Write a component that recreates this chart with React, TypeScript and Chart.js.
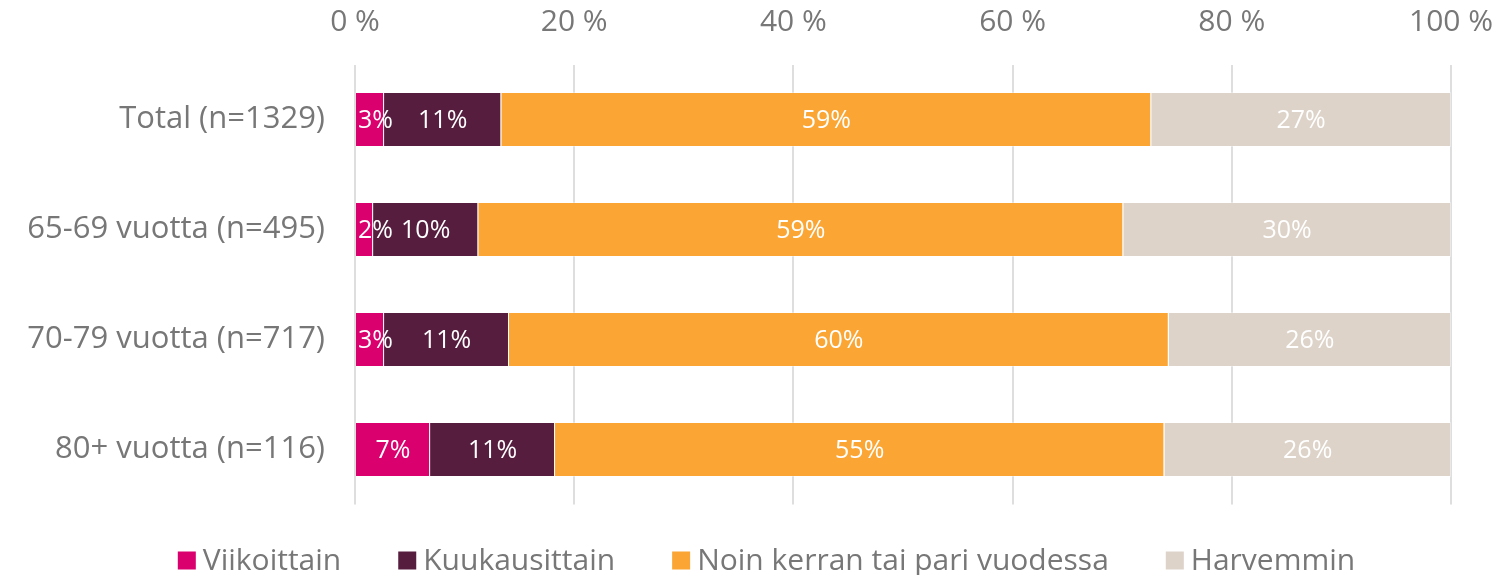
import React, { useEffect, useRef } from "react";
import { Chart, registerables } from "chart.js";

Chart.register(...registerables);

const categories = ["Total (n=1329)", "65-69 vuotta (n=495)", "70-79 vuotta (n=717)", "80+ vuotta (n=116)"];
const seriesNames = ["Viikoittain", "Kuukausittain", "Noin kerran tai pari vuodessa", "Harvemmin"];
const viikoittain = [2.65, 1.65, 2.65, 6.85];
const kuukausittain = [10.7, 9.6, 11.4, 11.4];
const noinKerran = [59.3, 58.85, 60.2, 55.6];
const harvemmin = [27.35, 29.9, 25.75, 26.15];
const labelsViikoittain = ["3%", "2%", "3%", "7%"];
const labelsKuukausittain = ["11%", "10%", "11%", "11%"];
const labelsNoin = ["59%", "59%", "60%", "55%"];
const labelsHarvemmin = ["27%", "30%", "26%", "26%"];
const tickValues = [0, 20, 40, 60, 80, 100];
const colors = ["#DA006D", "#561D3F", "#FBA634", "#DDD3C9"];

const FONT = "'Open Sans'";
const GRAY = "#777777";

export default function App() {
  const ref = useRef<HTMLCanvasElement | null>(null);
  useEffect(() => {
    if (!ref.current) return;
    const valueLabels = [labelsViikoittain, labelsKuukausittain, labelsNoin, labelsHarvemmin];
    const dataLabelPlugin = {
      id: "dataLabels",
      afterDatasetsDraw(chart: any) {
        const ctx = chart.ctx;
        ctx.save();
        ctx.font = `25px ${FONT}`;
        ctx.fillStyle = "#ffffff";
        ctx.textAlign = "center";
        ctx.textBaseline = "middle";
        chart.data.datasets.forEach((ds: any, di: number) => {
          const meta = chart.getDatasetMeta(di);
          meta.data.forEach((bar: any, i: number) => {
            const left = Math.min(bar.x, bar.base);
            const w = Math.abs(bar.x - bar.base);
            const tw = ctx.measureText(valueLabels[di][i]).width;
            // small segments: keep the label from running off the left edge
            let cx = left + w / 2;
            if (tw + 4 > w) cx = left + 2 + tw / 2;
            ctx.fillText(valueLabels[di][i], cx, bar.y + 1);
          });
        });
        ctx.restore();
      },
    };
    const legendPlugin = {
      id: "customLegend",
      afterDraw(chart: any) {
        const ctx = chart.ctx;
        ctx.save();
        ctx.font = `30px ${FONT}`;
        ctx.textBaseline = "middle";
        ctx.textAlign = "left";
        const box = 18;
        const gap = 7;
        const spacing = 57;
        const widths = chart.data.datasets.map((ds: any) => ctx.measureText(ds.label).width);
        const total = widths.reduce((a: number, w: number) => a + box + gap + w, 0) + spacing * (widths.length - 1);
        let x = 766.5 - total / 2;
        const y = 560.5;
        chart.data.datasets.forEach((ds: any, i: number) => {
          ctx.fillStyle = ds.backgroundColor;
          ctx.fillRect(x, y - box / 2, box, box);
          ctx.fillStyle = GRAY;
          ctx.fillText(ds.label, x + box + gap, y + 1);
          x += box + gap + widths[i] + spacing;
        });
        ctx.restore();
      },
    };
    const allSeries = [viikoittain, kuukausittain, noinKerran, harvemmin];
    const chart = new Chart(ref.current, {
      type: "bar",
      data: {
        labels: categories,
        datasets: allSeries.map((d, i) => ({
          label: seriesNames[i],
          data: d,
          backgroundColor: colors[i],
          borderColor: "rgba(255,255,255,0.35)",
          borderWidth: 1,
          barPercentage: 0.5,
          categoryPercentage: 1,
        })),
      },
      options: {
        indexAxis: "y",
        responsive: true,
        maintainAspectRatio: false,
        animation: false,
        layout: { autoPadding: false, padding: { left: 0, right: 54, top: 0, bottom: 70.5 } },
        plugins: {
          legend: { display: false },
          tooltip: { enabled: false },
        },
        scales: {
          x: {
            stacked: true,
            position: "top",
            min: 0,
            max: 100,
            afterFit: (scale: any) => {
              scale.height = 64.5;
              scale.paddingLeft = 0;
              scale.paddingRight = 0;
            },
            afterBuildTicks: (scale: any) => {
              scale.ticks = tickValues.map((v) => ({ value: v }));
            },
            ticks: {
              padding: 24,
              color: GRAY,
              font: { family: FONT, size: 30 },
              callback: (v: any) => `${v} %`,
              maxRotation: 0,
            },
            grid: { color: "#DEDEDE", lineWidth: 2, drawTicks: false },
            border: { display: false },
          },
          y: {
            stacked: true,
            afterFit: (scale: any) => {
              scale.width = 355;
            },
            ticks: {
              padding: 30,
              color: GRAY,
              font: { family: FONT, size: 31 },
            },
            grid: { display: false, drawTicks: false },
            border: { display: false },
          },
        },
      } as any,
      plugins: [dataLabelPlugin, legendPlugin],
    });
    return () => chart.destroy();
  }, []);
  return (
    <div style={{ position: "fixed", left: 0, top: 0, width: 1505, height: 575, background: "#fff" }}>
      <canvas ref={ref} />
    </div>
  );
}
